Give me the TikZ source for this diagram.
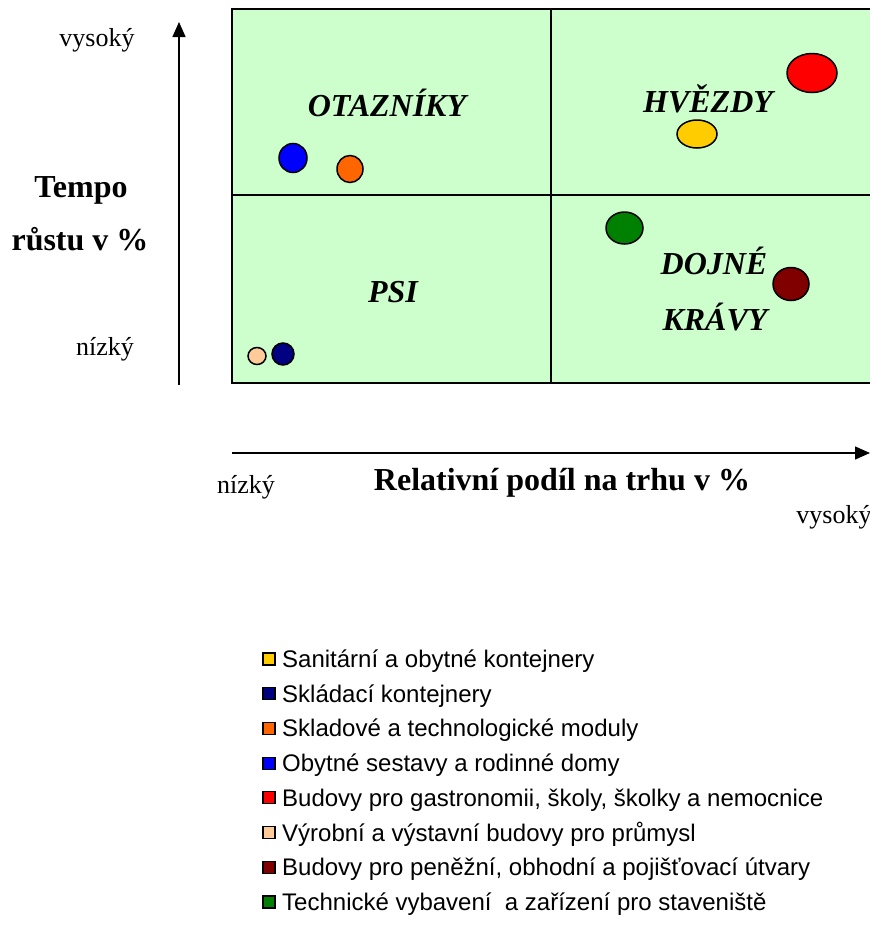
\documentclass[tikz,border=0pt]{standalone}
\usepackage{fontspec}
\setmainfont{Liberation Serif}
\newfontfamily\legendfont{Liberation Sans}
\usetikzlibrary{shapes.geometric,arrows.meta}
\definecolor{fieldgreen}{HTML}{CCFFCC}
\definecolor{bubyellow}{HTML}{FFCC00}
\definecolor{bubnavy}{HTML}{000080}
\definecolor{buborange}{HTML}{FF6600}
\definecolor{bubblue}{HTML}{0000FF}
\definecolor{bubred}{HTML}{FF0000}
\definecolor{bubpeach}{HTML}{FFCC99}
\definecolor{bubmaroon}{HTML}{800000}
\definecolor{bubgreen}{HTML}{008000}
\tikzset{
  bubble/.style={ellipse,draw=black,line width=1.5pt,inner sep=0pt},
  quadlabel/.style={font=\fontsize{32}{38}\selectfont\bfseries\itshape,anchor=base,inner sep=0pt},
  axistitle/.style={font=\fontsize{32}{38}\selectfont\bfseries,anchor=base,inner sep=0pt},
  scalelabel/.style={font=\fontsize{26}{30}\selectfont,anchor=base,inner sep=0pt},
  axis/.style={line width=1.5pt,-{Triangle[length=15pt,width=13pt]}},
  legendbox/.style={draw=black,line width=1.2pt,minimum size=12pt,inner sep=0pt},
  legendtext/.style={font=\legendfont\fontsize{24}{28}\selectfont,anchor=base west,inner sep=0pt},
}

\begin{document}
\begin{tikzpicture}[x=1pt,y=-1pt]
\useasboundingbox (0,0) rectangle (870,940);
% the four fields
\fill[fieldgreen] (232,9) rectangle (872,383);
\draw[line width=2pt] (872,9) -- (232,9) -- (232,383) -- (872,383);
\draw[line width=2.5pt] (551,9) -- (551,383);
\draw[line width=2.5pt] (232,195) -- (872,195);
\node[quadlabel] (otazniky) at (387,116) {OTAZNÍKY};
\node[quadlabel] (hvezdy) at (708,112) {HVĚZDY};
\node[quadlabel] (psi) at (393,302) {PSI};
\node[quadlabel] (dojne) at (714,274) {DOJNÉ};
\node[quadlabel] (kravy) at (715,330) {KRÁVY};
% bubbles
\node[bubble,fill=bubblue,minimum width=28pt,minimum height=29pt] (obytne) at (293,158) {};
\node[bubble,fill=buborange,minimum width=26pt,minimum height=27pt] (skladove) at (350,169) {};
\node[bubble,fill=bubred,minimum width=50pt,minimum height=39pt] (budovy) at (812,73) {};
\node[bubble,fill=bubyellow,minimum width=40pt,minimum height=28pt] (sanitarni) at (697,134) {};
\node[bubble,fill=bubgreen,minimum width=37pt,minimum height=32pt] (technicke) at (624.5,228) {};
\node[bubble,fill=bubmaroon,minimum width=36pt,minimum height=33pt] (penezni) at (791,284) {};
\node[bubble,fill=bubpeach,minimum width=18pt,minimum height=17pt] (vyrobni) at (257,356) {};
\node[bubble,fill=bubnavy,minimum width=22pt,minimum height=22pt] (skladaci) at (283,354) {};
% axes
\coordinate (ybottom) at (179,385);
\coordinate (ytop) at (179,22);
\draw[axis] (ybottom) -- (ytop);
\coordinate (xleft) at (232,453);
\coordinate (xright) at (870,453);
\draw[axis] (xleft) -- (xright);
\node[scalelabel] (yhigh) at (97,46) {vysoký};
\node[scalelabel] (ylow) at (105,355) {nízký};
\node[axistitle] (tempo) at (81,197) {Tempo};
\node[axistitle] (rustu) at (80,250) {růstu v \%};
\node[scalelabel] (xlow) at (246,493) {nízký};
\node[scalelabel] (xhigh) at (834,523) {vysoký};
\node[axistitle] (podil) at (562,490) {Relativní podíl na trhu v \%};
% legend
\node[legendbox,fill=bubyellow] (lb1) at (269,659) {};
\node[legendtext] (lt1) at (282,667.5) {Sanitární a obytné kontejnery};
\node[legendbox,fill=bubnavy] (lb2) at (269,693.7) {};
\node[legendtext] (lt2) at (282,702.2) {Skládací kontejnery};
\node[legendbox,fill=buborange] (lb3) at (269,728.4) {};
\node[legendtext] (lt3) at (282,736.9) {Skladové a technologické moduly};
\node[legendbox,fill=bubblue] (lb4) at (269,763.1) {};
\node[legendtext] (lt4) at (282,771.6) {Obytné sestavy a rodinné domy};
\node[legendbox,fill=bubred] (lb5) at (269,797.8) {};
\node[legendtext] (lt5) at (282,806.3) {Budovy pro gastronomii, školy, školky a nemocnice};
\node[legendbox,fill=bubpeach] (lb6) at (269,832.5) {};
\node[legendtext] (lt6) at (282,841) {Výrobní a výstavní budovy pro průmysl};
\node[legendbox,fill=bubmaroon] (lb7) at (269,867.2) {};
\node[legendtext] (lt7) at (282,875.7) {Budovy pro peněžní, obhodní a pojišťovací útvary};
\node[legendbox,fill=bubgreen] (lb8) at (269,901.9) {};
\node[legendtext] (lt8) at (282,910.4) {Technické vybavení \ a zařízení pro staveniště};
\end{tikzpicture}
\end{document}
